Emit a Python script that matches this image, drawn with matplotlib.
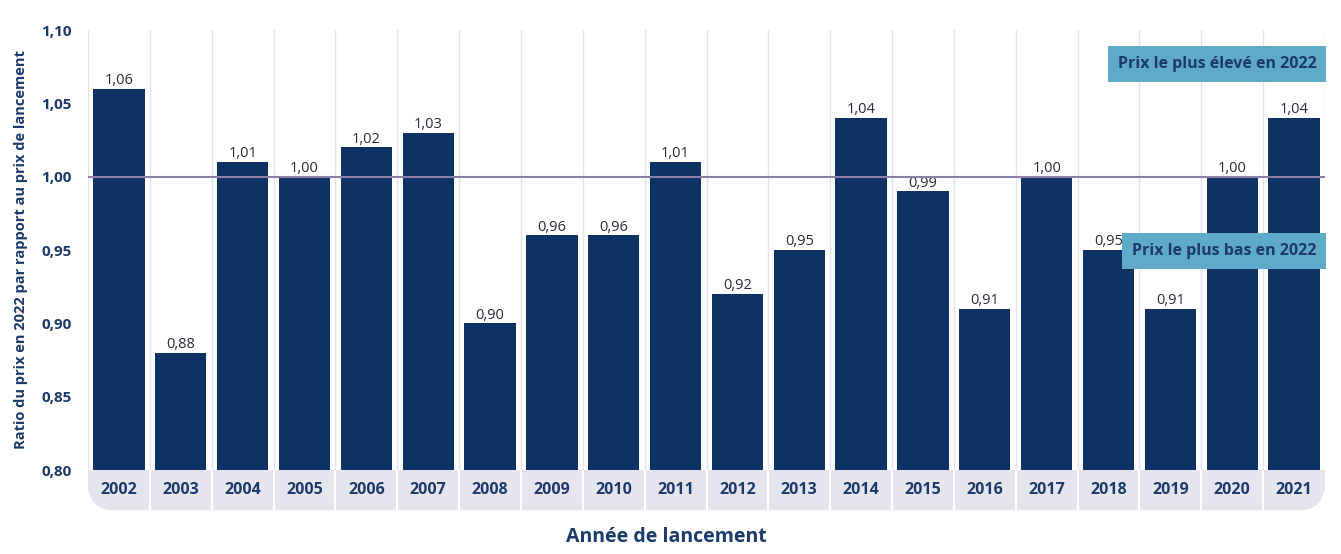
import matplotlib.pyplot as plt
from matplotlib.patches import FancyBboxPatch, Rectangle

years = ["2002", "2003", "2004", "2005", "2006", "2007", "2008", "2009", "2010", "2011",
         "2012", "2013", "2014", "2015", "2016", "2017", "2018", "2019", "2020", "2021"]
ratios = [1.06, 0.88, 1.01, 1.00, 1.02, 1.03, 0.90, 0.96, 0.96, 1.01,
          0.92, 0.95, 1.04, 0.99, 0.91, 1.00, 0.95, 0.91, 1.00, 1.04]
yticks = [0.80, 0.85, 0.90, 0.95, 1.00, 1.05, 1.10]

NAVY = "#0f3264"
TXT = "#1c3a6b"
GRID = "#e4e2ec"
BAND = "#e6e5ee"
BOX = "#5eaac8"

plt.rcParams["font.family"] = ["Open Sans", "DejaVu Sans"]

fig = plt.figure(figsize=(13.41, 5.54), dpi=100)
ax = fig.add_axes([88 / 1341, 1 - 470 / 554, 1237 / 1341, 440 / 554])

n = len(years)
x = list(range(n))
ax.bar(x, [r - 0.80 for r in ratios], bottom=0.80, width=0.83, color=NAVY, zorder=3)
for xi, r in zip(x, ratios):
    ax.text(xi, r + 0.0005, f"{r:.2f}".replace(".", ","), ha="center", va="bottom",
            fontsize=10.5, color="#2a2a3a", zorder=4)

ax.set_xlim(-0.5, n - 0.5)
ax.set_ylim(0.80, 1.10)
for b in range(n + 1):
    ax.axvline(b - 0.5, color=GRID, lw=1, zorder=1)
ax.axhline(1.00, color="#8a7fa8", lw=1.5, zorder=4)

ax.set_yticks(yticks)
ax.set_yticklabels([f"{t:.2f}".replace(".", ",") for t in yticks], fontsize=11,
                   color=TXT, fontweight="bold")
ax.set_xticks([])
ax.tick_params(axis="y", length=0, pad=12)
for s in ax.spines.values():
    s.set_visible(False)
ax.set_ylabel("Ratio du prix en 2022 par rapport au prix de lancement", fontsize=10.5,
              color=TXT, fontweight="bold", labelpad=9)

# year band below the plot
band = fig.add_axes([88 / 1341, 1 - 511 / 554, 1237 / 1341, 41 / 554])
band.set_xlim(-0.5, n - 0.5)
band.set_ylim(0, 1)
band.axis("off")
band.add_patch(FancyBboxPatch((-0.5 + 0.01, 0.02), n - 0.02, 0.96,
                              boxstyle="round,pad=0,rounding_size=0.4",
                              mutation_aspect=1.6, fc=BAND, ec="none"))
band.add_patch(Rectangle((-0.5, 0.5), n, 0.5, fc=BAND, ec="none"))
for b in range(1, n):
    band.axvline(b - 0.5, color="white", lw=1.5)
for xi, y in zip(x, years):
    band.text(xi, 0.5, y, ha="center", va="center", fontsize=11.5, fontweight="bold",
              color=TXT)

fig.text(666 / 1341, 1 - 537 / 554, "Année de lancement", ha="center",
         va="center", fontsize=14, fontweight="bold", color=TXT)

ax.text(n - 0.64, 1.0768, "Prix le plus élevé en 2022", ha="right", va="center",
        fontsize=11.5, fontweight="bold", color=TXT, zorder=5,
        bbox=dict(boxstyle="square,pad=0.6", fc=BOX, ec="none"))
ax.text(n - 0.64, 0.9493, "Prix le plus bas en 2022", ha="right", va="center",
        fontsize=11.5, fontweight="bold", color=TXT, zorder=5,
        bbox=dict(boxstyle="square,pad=0.6", fc=BOX, ec="none"))

fig.savefig("out.png", dpi=100)
